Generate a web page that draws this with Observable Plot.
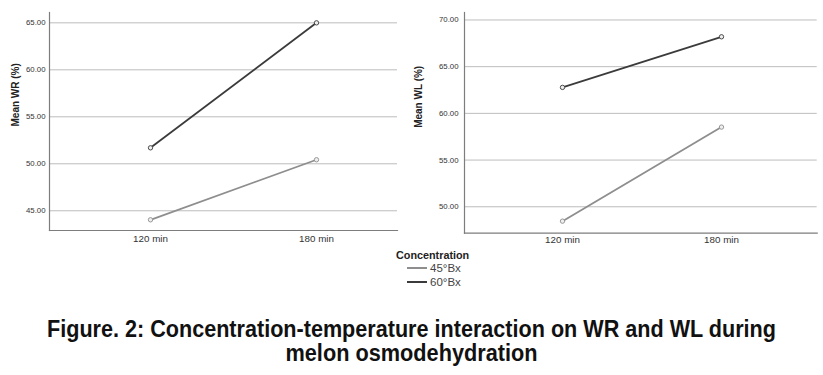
<!DOCTYPE html>
<html>
<head>
<meta charset="utf-8">
<script src="https://cdn.jsdelivr.net/npm/d3@7"></script>
<script src="https://cdn.jsdelivr.net/npm/@observablehq/plot@0.6"></script>
<style>
  html, body { margin: 0; padding: 0; background: #fff; }
  #wrap { position: relative; width: 823px; height: 375px; background: #fff; overflow: hidden; font-family: "Liberation Sans", Arial, sans-serif; }
  .panel { position: absolute; top: 0; }
  #legend { position: absolute; left: 396px; top: 249px; }
  #legend .title { font-weight: bold; font-size: 10.8px; color: #222; line-height: 13px; }
  #legend .row { position: absolute; left: 11px; display: flex; align-items: center; font-size: 11.5px; color: #444; white-space: nowrap; }
  #legend .sw { width: 20px; height: 2px; margin-right: 3px; }
  #caption { position: absolute; left: 0; top: 300px; }
</style>
</head>
<body>
<div id="wrap">
  <div id="left" class="panel" style="left:0px"></div>
  <div id="right" class="panel" style="left:400px"></div>
  <div id="legend"></div>
  <svg id="caption" width="823" height="75"></svg>
</div>
<script>
// ---- data ----
const times = ["120 min", "180 min"];
const concentrations = ["45°Bx", "60°Bx"];
const wr45 = [44.04, 50.43];
const wr60 = [51.70, 65.00];
const wl45 = [48.46, 58.53];
const wl60 = [62.78, 68.20];
const wrTicks = [45, 50, 55, 60, 65];
const wlTicks = [50, 55, 60, 65, 70];
const legendTitle = "Concentration";
const captionLines = [
  "Figure. 2: Concentration-temperature interaction on WR and WL during",
  "melon osmodehydration"
];
const seriesColors = ["#8e8e8e", "#3b3b3b"];

function rows(v45, v60) {
  const out = [];
  [v45, v60].forEach((vals, k) => {
    times.forEach((t, i) => out.push({time: t, conc: concentrations[k], value: vals[i]}));
  });
  return out;
}

function panel(o) {
  const data = rows(o.v45, o.v60);
  return Plot.plot({
    width: o.width, height: 250,
    marginLeft: o.ml, marginRight: o.mr, marginTop: 12, marginBottom: o.mb,
    style: {fontFamily: "'Liberation Sans', Arial, sans-serif", background: "transparent", overflow: "visible"},
    x: {type: "point", domain: times, padding: 0, insetLeft: o.il, insetRight: o.ir, label: null},
    y: {domain: o.domain, label: null},
    color: {domain: concentrations, range: seriesColors},
    marks: [
      Plot.gridY(o.ticks, {stroke: "#bdbdbd", strokeOpacity: 1, strokeWidth: 1}),
      Plot.frame({anchor: "left", stroke: "#7d7d7d", strokeWidth: 1.2}),
      Plot.frame({anchor: "bottom", stroke: "#7d7d7d", strokeWidth: 1.2}),
      Plot.axisY(o.ticks, {tickSize: 0, tickPadding: o.ytp, fontSize: 7.8, fill: "#333", tickFormat: d3.format(".2f"), label: null}),
      Plot.axisX({tickSize: 0, tickPadding: o.xtp, fontSize: 9.8, fill: "#333", label: null}),
      Plot.text([o.label], {frameAnchor: "left", rotate: -90, dx: o.ldx, dy: 5, fontWeight: "bold", fontSize: 10, fill: "#222"}),
      Plot.line(data, {x: "time", y: "value", z: "conc", stroke: "conc", strokeWidth: 1.8}),
      Plot.dot(data, {x: "time", y: "value", stroke: "conc", fill: "#eeeeee", r: 2.2, strokeWidth: 0.9})
    ]
  });
}

document.getElementById("left").appendChild(panel({
  v45: wr45, v60: wr60, ticks: wrTicks, domain: [42.9, 66.1], label: "Mean WR (%)",
  width: 400, ml: 49, mr: 3, mb: 20, il: 101, ir: 81, ytp: 4, xtp: 5, ldx: -34
}));
document.getElementById("right").appendChild(panel({
  v45: wl45, v60: wl60, ticks: wlTicks, domain: [47.17, 70.8], label: "Mean WL (%)",
  width: 423, ml: 64, mr: 6.3, mb: 17.3, il: 97.7, ir: 95.7, ytp: 6, xtp: 3, ldx: -46
}));

// legend
const legend = document.getElementById("legend");
const t = document.createElement("div");
t.className = "title";
t.textContent = legendTitle;
legend.appendChild(t);
concentrations.forEach((c, i) => {
  const r = document.createElement("div");
  r.className = "row";
  r.style.top = (13 + i * 14) + "px";
  const sw = document.createElement("span");
  sw.className = "sw";
  sw.style.background = seriesColors[i];
  const lab = document.createElement("span");
  lab.textContent = c;
  r.appendChild(sw); r.appendChild(lab);
  legend.appendChild(r);
});

// caption
const cap = d3.select("#caption");
const capLens = [729, 252];
const capY = [37, 61];
captionLines.forEach((line, i) => {
  cap.append("text")
    .attr("x", 411.5).attr("y", capY[i])
    .attr("text-anchor", "middle")
    .attr("font-family", "'Liberation Sans', Arial, sans-serif")
    .attr("font-weight", "bold")
    .attr("font-size", 23)
    .attr("fill", "#111")
    .attr("textLength", capLens[i])
    .attr("lengthAdjust", "spacingAndGlyphs")
    .text(line);
});
</script>
</body>
</html>
